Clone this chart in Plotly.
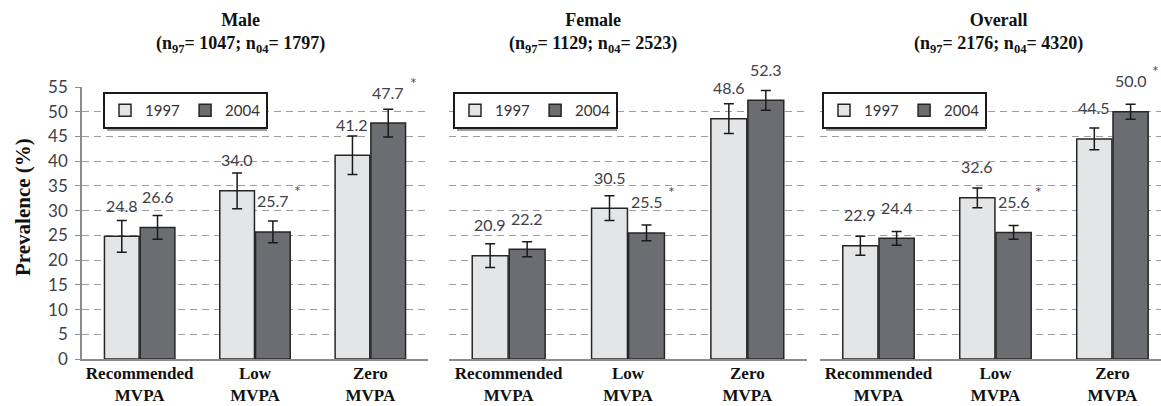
import plotly.graph_objects as go

# ---------------- data ----------------
categories = ["Recommended<br>MVPA", "Low<br>MVPA", "Zero<br>MVPA"]
panel_names = ["Male", "Female", "Overall"]
n_1997 = [1047, 1129, 2176]
n_2004 = [1797, 2523, 4320]
years = ["1997", "2004"]

male_1997 = [24.8, 34.0, 41.2]
male_2004 = [26.6, 25.7, 47.7]
male_err_1997 = [3.2, 3.6, 3.9]
male_err_2004 = [2.4, 2.2, 2.8]
male_sig_2004 = [False, True, True]

female_1997 = [20.9, 30.5, 48.6]
female_2004 = [22.2, 25.5, 52.3]
female_err_1997 = [2.4, 2.5, 3.0]
female_err_2004 = [1.5, 1.6, 2.0]
female_sig_2004 = [False, True, False]

overall_1997 = [22.9, 32.6, 44.5]
overall_2004 = [24.4, 25.6, 50.0]
overall_err_1997 = [1.9, 2.0, 2.2]
overall_err_2004 = [1.4, 1.4, 1.5]
overall_sig_2004 = [False, True, True]

y_ticks = [0, 5, 10, 15, 20, 25, 30, 35, 40, 45, 50, 55]

# ---------------- style ----------------
W, H = 1161, 406
color_1997 = "#e4e5e7"
color_2004 = "#6b6d70"
outline = "#262626"
num_font = "Lato"
serif = "Liberation Serif"

panels = [
    (male_1997, male_2004, male_err_1997, male_err_2004, male_sig_2004),
    (female_1997, female_2004, female_err_1997, female_err_2004, female_sig_2004),
    (overall_1997, overall_2004, overall_err_1997, overall_err_2004, overall_sig_2004),
]

# pixel layout of the three plot areas
x_dom_px = [(82, 428), (449, 807), (820, 1161)]
x_ranges = [[-0.5, 2.5], [-0.5, 2.5], [-0.5, 2.415]]
y_px = (87, 359)  # top (55), bottom (0)
title_x_px = [240, 593, 998]
legend_x_px = [103, 453, 822]
legend_top_px = 92
legend_w_px, legend_h_px = 160, 35

bargap = 0.38
bargroupgap = 0.03
half = (1 - bargap) / 4  # center offset of each bar in a group

fig = go.Figure()
annotations = []
shapes = []

for p, (v97, v04, e97, e04, sig) in enumerate(panels):
    sfx = "" if p == 0 else str(p + 1)
    xa, ya = "x" + sfx, "y" + sfx
    leg = "legend" + sfx
    for yr, vals, errs, col in [(years[0], v97, e97, color_1997), (years[1], v04, e04, color_2004)]:
        fig.add_trace(go.Bar(
            x=categories, y=vals, name=yr,
            marker=dict(color=col, line=dict(color=outline, width=1.5)),
            error_y=dict(type="data", array=errs, color="#1a1a1a", thickness=1.5, width=5),
            xaxis=xa, yaxis=ya, legend=leg, showlegend=True,
        ))
    # value labels
    for i in range(len(categories)):
        for vals, off in [(v97, -half), (v04, half)]:
            annotations.append(dict(
                x=i + off, y=vals[i], xref=xa, yref=ya,
                text=f"{vals[i]:.1f}", showarrow=False, yshift=31,
                font=dict(family=num_font, size=16, color="#404048"),
            ))
        if sig[i]:
            annotations.append(dict(
                x=i + half, y=v04[i], xref=xa, yref=ya,
                text="*", showarrow=False, yshift=41, xshift=25,
                font=dict(family=num_font, size=16, color="#5a4a55"),
            ))
    # panel titles
    annotations.append(dict(
        x=title_x_px[p] / W, y=1 - 8 / H, xref="paper", yref="paper",
        xanchor="center", yanchor="top", showarrow=False,
        text=(f"<b>{panel_names[p]}</b><br><b>(n<sub>97</sub>= {n_1997[p]}; "
              f"n<sub>04</sub>= {n_2004[p]})</b>"),
        font=dict(family=serif, size=18, color="#111111"),
    ))
    # legend drop shadow
    lx0 = legend_x_px[p] + 4
    ly0 = legend_top_px + 4
    shapes.append(dict(
        type="rect", xref="paper", yref="paper", layer="above",
        x0=lx0 / W, x1=(lx0 + legend_w_px) / W,
        y0=1 - (ly0 + legend_h_px) / H, y1=1 - ly0 / H,
        fillcolor="#a0a0a0", line=dict(width=0),
    ))

    xd = [x_dom_px[p][0] / W, x_dom_px[p][1] / W]
    yd = [1 - y_px[1] / H, 1 - y_px[0] / H]
    fig.update_layout(**{
        "xaxis" + sfx: dict(
            domain=xd, range=x_ranges[p], type="category", automargin=False,
            showline=True, linecolor="#8c8c8c", linewidth=1.5,
            showgrid=False, zeroline=False, ticks="", ticklabelstandoff=-2,
            tickfont=dict(family=serif, size=17, color="#111111", weight="bold"),
            anchor=ya, fixedrange=True,
        ),
        "yaxis" + sfx: dict(
            domain=yd, range=[0, 55], tickvals=y_ticks, automargin=False,
            showgrid=True, gridcolor="#9c9c9c", griddash="7px,5px", gridwidth=1.4,
            zeroline=False,
            showline=(p == 0), linecolor="#8c8c8c", linewidth=1.5,
            ticks="outside" if p == 0 else "", ticklen=5, tickcolor="#8c8c8c",
            showticklabels=(p == 0), ticklabelstandoff=4,
            tickfont=dict(family=num_font, size=17, color="#404048"),
            anchor=xa, fixedrange=True,
        ),
        leg: dict(
            x=legend_x_px[p] / W, y=1 - legend_top_px / H, xref="paper", yref="paper",
            xanchor="left", yanchor="top", orientation="h",
            bgcolor="white", bordercolor="#1a1a1a", borderwidth=2,
            font=dict(family=num_font, size=15, color="#333333"),
            itemwidth=30, traceorder="normal",
        ),
    })

# y-axis title
annotations.append(dict(
    x=23 / W, y=1 - 207 / H, xref="paper", yref="paper", textangle=-90,
    text="<b>Prevalence (%)</b>", showarrow=False, xanchor="center", yanchor="middle",
    font=dict(family=serif, size=21, color="#111111"),
))

fig.update_layout(
    template="none",
    width=W, height=H,
    margin=dict(l=0, r=0, t=0, b=0, pad=0),
    paper_bgcolor="white", plot_bgcolor="white",
    barmode="group", bargap=bargap, bargroupgap=bargroupgap,
    annotations=annotations, shapes=shapes,
)

fig.write_html(
    "out.html",
    config={"displayModeBar": False},
    post_script="document.body.style.margin='0';document.body.style.overflow='hidden';",
)
